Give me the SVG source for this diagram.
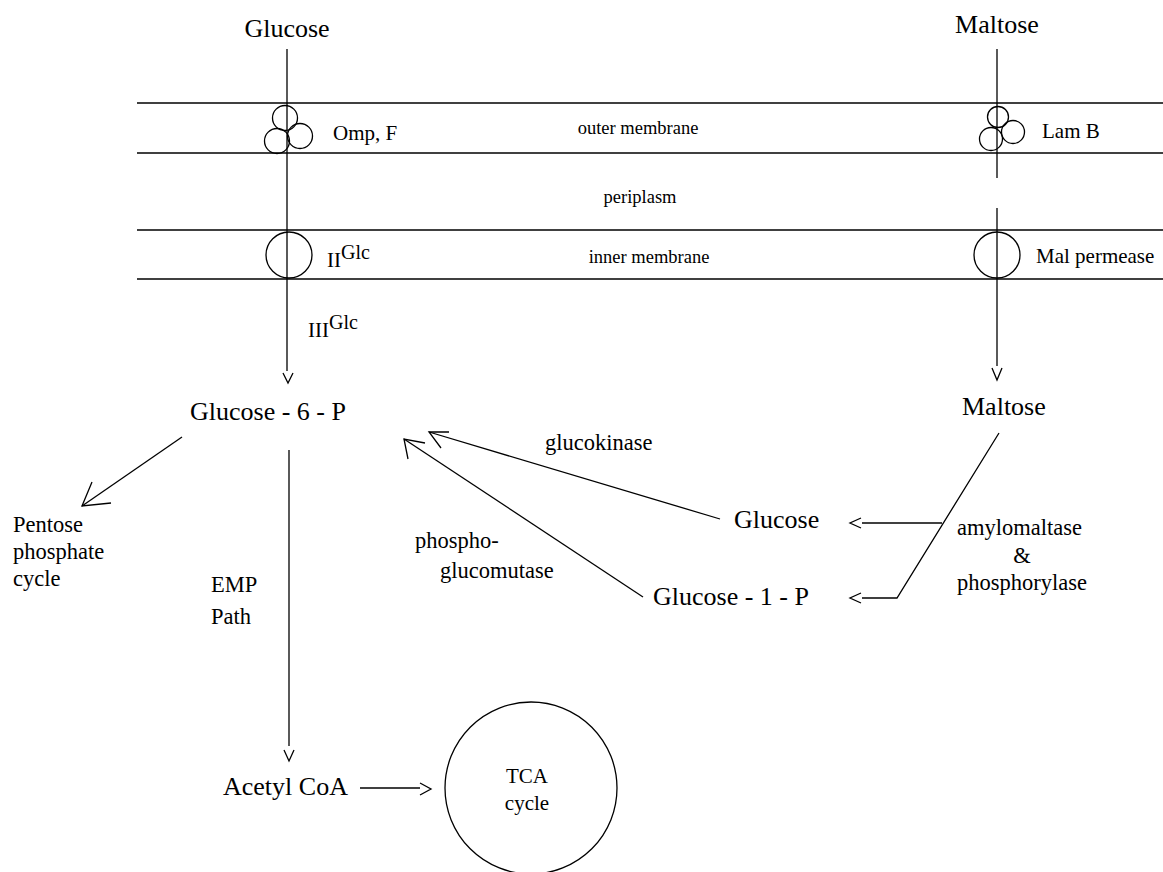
<svg xmlns="http://www.w3.org/2000/svg" width="1163" height="872" viewBox="0 0 1163 872">
<style>
text{font-family:"Liberation Serif","Times New Roman",serif;fill:#000}
.big{font-size:26px}
.mid{font-size:22.5px}
.mem{font-size:18.5px}
.lbl{font-size:21px}
line,polyline,circle,path{stroke:#000;stroke-width:1.3;fill:none}
</style>
<rect width="1163" height="872" fill="#fff"/>
<g id="membranes">
<line x1="137" y1="103" x2="1163" y2="103"/>
<line x1="137" y1="153" x2="1163" y2="153"/>
<line x1="137" y1="230" x2="1163" y2="230"/>
<line x1="137" y1="279" x2="1163" y2="279"/>
<text class="mem" x="638" y="134" text-anchor="middle">outer membrane</text>
<text class="mem" x="640" y="203" text-anchor="middle">periplasm</text>
<text class="mem" x="649" y="263" text-anchor="middle">inner membrane</text>
</g>
<g id="connectors">
<line x1="287" y1="49" x2="287" y2="371"/>
<polyline points="283,373 288,383 293,373"/>
<line x1="997" y1="49" x2="997" y2="178"/>
<line x1="997" y1="208" x2="997" y2="366"/>
<polyline points="992,368 997,380 1002,368"/>
<line x1="182" y1="437" x2="82" y2="506"/>
<polyline points="92,482 82,506 111,503"/>
<line x1="289" y1="450" x2="289" y2="746"/>
<polyline points="284,750 289,761 294,750"/>
<line x1="360" y1="788" x2="420" y2="788"/>
<polyline points="420,783 431,789 420,795"/>
<line x1="720" y1="519" x2="429" y2="432"/>
<polyline points="449,432 429,432 441,448"/>
<line x1="643" y1="597" x2="404" y2="439"/>
<polyline points="425,443 404,439 408,459"/>
<polyline points="999,433 897,598 862,598"/>
<polyline points="861,593 850,598 861,603"/>
<line x1="942" y1="523" x2="862" y2="523"/>
<polyline points="861,518 850,523 861,528"/>
</g>
<g id="glucose-top"><text class="big" x="287" y="37" text-anchor="middle">Glucose</text></g>
<g id="maltose-top"><text class="big" x="997" y="33" text-anchor="middle">Maltose</text></g>
<g id="ompf">
<circle cx="285" cy="118" r="12.5"/>
<circle cx="277" cy="141" r="12.5"/>
<circle cx="300" cy="136" r="12.5"/>
<text class="lbl" x="333" y="140">Omp, F</text>
</g>
<g id="lamb">
<circle cx="998" cy="117" r="10.5"/>
<circle cx="991" cy="139" r="11.5"/>
<circle cx="1013" cy="132" r="11.5"/>
<text class="lbl" x="1042" y="138">Lam B</text>
</g>
<g id="iiglc">
<circle cx="289" cy="255" r="23"/>
<text class="lbl" x="327" y="267">II<tspan dy="-8" font-size="20">Glc</tspan></text>
</g>
<g id="iiiglc">
<text class="lbl" x="308" y="337">III<tspan dy="-8" font-size="20">Glc</tspan></text>
</g>
<g id="malpermease">
<circle cx="997" cy="255" r="23"/>
<text class="lbl" x="1036" y="263" font-size="22">Mal permease</text>
</g>
<g id="g6p"><text class="big" x="190" y="420">Glucose - 6 - P</text></g>
<g id="maltose-in"><text class="big" x="962" y="415">Maltose</text></g>
<g id="glucokinase"><text class="mid" x="545" y="450" font-size="23">glucokinase</text></g>
<g id="glucose-in"><text class="big" x="734" y="528">Glucose</text></g>
<g id="pgm"><text class="mid" x="415" y="548">phospho-</text><text class="mid" x="440" y="578">glucomutase</text></g>
<g id="g1p"><text class="big" x="653" y="605">Glucose - 1 - P</text></g>
<g id="amylo">
<text class="mid" x="957" y="535" font-size="23.5">amylomaltase</text>
<text class="mid" x="1022" y="563" text-anchor="middle" font-size="23.5">&amp;</text>
<text class="mid" x="957" y="590" font-size="23.5">phosphorylase</text>
</g>
<g id="pentose">
<text class="mid" x="13" y="532">Pentose</text>
<text class="mid" x="13" y="559">phosphate</text>
<text class="mid" x="13" y="586">cycle</text>
</g>
<g id="emp"><text class="mid" x="211" y="592">EMP</text><text class="mid" x="211" y="624">Path</text></g>
<g id="acetylcoa"><text class="big" x="223" y="795">Acetyl CoA</text></g>
<g id="tca">
<circle cx="531" cy="788" r="86"/>
<text class="lbl" x="527" y="783" text-anchor="middle">TCA</text>
<text class="lbl" x="527" y="810" text-anchor="middle">cycle</text>
</g>
</svg>
